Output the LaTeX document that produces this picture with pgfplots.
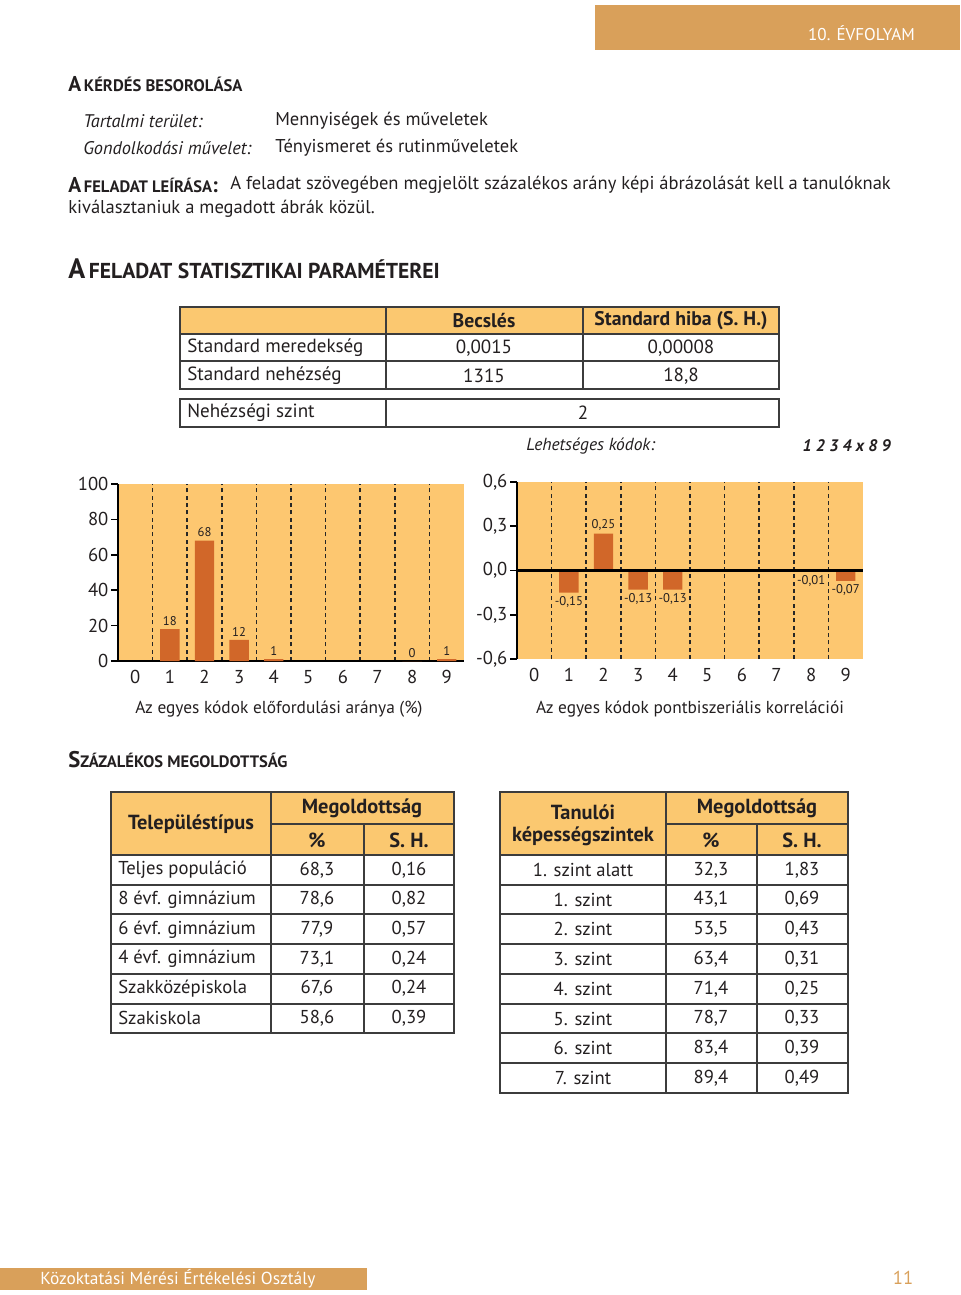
\documentclass[border=0pt]{standalone}
\usepackage{pgfplots}
\pgfplotsset{compat=1.18}
\usepackage{fontspec}
\setmainfont{PT Sans}
\definecolor{hdr}{RGB}{217,160,90}
\definecolor{chartbg}{RGB}{253,199,112}
\definecolor{barc}{RGB}{209,103,41}
\definecolor{thead}{RGB}{251,200,112}
\definecolor{txt}{RGB}{35,31,32}
\definecolor{rule}{RGB}{60,60,60}
\newcommand\fs[1]{\fontsize{#1}{#1}\selectfont}
\pgfplotsset{
  /pgf/number format/assume math mode=true,
  pagechart/.style={
    width=259.5pt, height=132.75pt, scale only axis,
    xmin=-0.5, xmax=9.5,
    axis background/.style={fill=chartbg},
    axis y line*=left, axis x line*=bottom,
    axis line style={line width=2.2pt, black, -},
    xtick={0,...,9},
    minor xtick={0.5,1.5,...,8.5}, xminorgrids,
    minor grid style={black!85, line width=1.1pt, dash pattern=on 3pt off 2.5pt},
    x tick style={draw=none}, minor tick length=0pt,
    y tick style={line width=1.2pt, black}, tick align=outside, major tick length=5pt,
    ticklabel style={font=\fs{14}, text=txt, inner sep=2pt},
    ybar, bar width=14.5pt,
    nodes near coords,
    nodes near coords style={font=\fs{9.5}, text=txt, inner sep=2.5pt},
  }
}
\begin{document}
\begin{tikzpicture}[x=0.75pt, y=-0.75pt, every node/.style={inner sep=0pt, text=txt}]
\path[use as bounding box] (0,0) rectangle (960,1295);

% header
\fill[hdr] (595,5) rectangle (960,50);
\node[anchor=east, text=white, font=\fs{12.8}] at (915,33) {10. ÉVFOLYAM};

\node[anchor=west, font=\bfseries] at (68,84) {\fs{16}A\fs{12.5}\,KÉRDÉS BESOROLÁSA};
\node[anchor=west, font=\fs{13.7}\itshape] at (83,121) {Tartalmi terület:};
\node[anchor=west, font=\fs{13.9}] at (275,121) {Mennyiségek és műveletek};
\node[anchor=west, font=\fs{13.7}\itshape] at (83,148) {Gondolkodási művelet:};
\node[anchor=west, font=\fs{13.9}] at (275,148) {Tényismeret és rutinműveletek};
\node[anchor=west, font=\bfseries] at (68,185) {\fs{16}A\fs{12.4}\,FELADAT LEÍRÁSA\fs{16}:};
\node[anchor=west, font=\fs{13.9}] at (230,185) {A feladat szövegében megjelölt százalékos arány képi ábrázolását kell a tanulóknak};
\node[anchor=west, font=\fs{13.9}] at (68,209) {kiválasztaniuk a megadott ábrák közül.};
\node[anchor=west, font=\bfseries] at (68,269) {\fs{21}A\fs{16.2}\,FELADAT STATISZTIKAI PARAMÉTEREI};

% parameter table
\fill[thead] (180,307) rectangle (779,334);
\draw[rule, line width=1.3pt] (180,307) rectangle (779,389);
\draw[rule, line width=1.3pt] (180,334) -- (779,334) (180,361) -- (779,361)
  (386,307) -- (386,389) (583,307) -- (583,389);
\node[font=\fs{14.8}\bfseries] at (484,321) {Becslés};
\node[font=\fs{14.8}\bfseries] at (681,321) {Standard hiba (S. H.)};
\node[anchor=west, font=\fs{14.3}] at (187,348) {Standard meredekség};
\node[font=\fs{14.3}] at (484,348) {0,0015};
\node[font=\fs{14.3}] at (681,348) {0,00008};
\node[anchor=west, font=\fs{14.3}] at (187,376) {Standard nehézség};
\node[font=\fs{14.3}] at (484,376) {1315};
\node[font=\fs{14.3}] at (681,376) {18,8};
\draw[rule, line width=1.3pt] (180,399) rectangle (779,427) (386,399) -- (386,427);
\node[anchor=west, font=\fs{14.3}] at (187,413) {Nehézségi szint};
\node[font=\fs{14.3}] at (583,413) {2};
\node[anchor=west, font=\fs{13.1}\itshape] at (526,446) {Lehetséges kódok:};
\node[anchor=east, font=\fs{12.5}\bfseries\itshape] at (891,446) {1 2 3 4 x 8 9};

% chart 1
\begin{axis}[pagechart, at={(88.5pt,-495.75pt)}, anchor=south west,
  ymin=0, ymax=100, ytick={0,20,...,100}]
\addplot[fill=barc, draw=none] coordinates {(1,18) (2,68) (3,12) (4,1) (8,0) (9,1)};
\end{axis}
\node[font=\fs{13}] at (279,709) {Az egyes kódok előfordulási aránya (\%)};

% chart 2
\begin{axis}[pagechart, at={(387.75pt,-494.25pt)}, anchor=south west,
  ymin=-0.6, ymax=0.6, ytick={-0.6,-0.3,0,0.3,0.6},
  x axis line style={draw=none},
  yticklabel style={/pgf/number format/.cd, fixed, fixed zerofill, precision=1, use comma},
  nodes near coords style={/pgf/number format/.cd, fixed, fixed zerofill, precision=2, use comma}]
\addplot[fill=barc, draw=none] coordinates {(1,-0.15) (2,0.25) (3,-0.13) (4,-0.13) (8,-0.01) (9,-0.07)};
\draw[line width=2.2pt, black] (axis cs:-0.5,0) -- (axis cs:9.5,0);
\end{axis}
\node[font=\fs{13}] at (690,709) {Az egyes kódok pontbiszeriális korrelációi};

% percentages
\node[anchor=west, font=\bfseries] at (68,760) {\fs{17}S\fs{12.4}ZÁZALÉKOS MEGOLDOTTSÁG};

% left table
\fill[thead] (111,792) rectangle (454,855);
\draw[rule, line width=1.3pt] (111,792) rectangle (454,1033);
\draw[rule, line width=1.3pt] (271,792) -- (271,1033) (364,824) -- (364,1033) (271,824) -- (454,824)
  (111,855) -- (454,855) (111,885) -- (454,885) (111,914) -- (454,914) (111,944) -- (454,944)
  (111,974) -- (454,974) (111,1004) -- (454,1004);
\node[font=\fs{15.3}\bfseries] at (191,824) {Településtípus};
\node[font=\fs{15.3}\bfseries] at (362,808) {Megoldottság};
\node[font=\fs{15.3}\bfseries] at (317,840) {\%};
\node[font=\fs{15.3}\bfseries] at (409,840) {S. H.};
\foreach \n/\p/\s [count=\i] in {Teljes populáció/68{,}3/0{,}16, 8 évf. gimnázium/78{,}6/0{,}82,
  6 évf. gimnázium/77{,}9/0{,}57, 4 évf. gimnázium/73{,}1/0{,}24, Szakközépiskola/67{,}6/0{,}24,
  Szakiskola/58{,}6/0{,}39}{
  \pgfmathsetmacro\yy{855+29.7*\i-14.85}
  \node[anchor=west, font=\fs{14}] at (118,\yy) {\n};
  \node[font=\fs{14}] at (317,\yy) {\p};
  \node[font=\fs{14}] at (409,\yy) {\s};
}

% right table
\fill[thead] (500,792) rectangle (848,855);
\draw[rule, line width=1.3pt] (500,792) rectangle (848,1093);
\draw[rule, line width=1.3pt] (666,792) -- (666,1093) (757,824) -- (757,1093) (666,824) -- (848,824)
  (500,855) -- (848,855) (500,885) -- (848,885) (500,914) -- (848,914) (500,944) -- (848,944)
  (500,974) -- (848,974) (500,1004) -- (848,1004) (500,1033) -- (848,1033) (500,1063) -- (848,1063);
\node[font=\fs{15.3}\bfseries] at (583,812) {Tanulói};
\node[font=\fs{15.3}\bfseries] at (583,836) {képességszintek};
\node[font=\fs{15.3}\bfseries] at (757,808) {Megoldottság};
\node[font=\fs{15.3}\bfseries] at (711,840) {\%};
\node[font=\fs{15.3}\bfseries] at (802,840) {S. H.};
\foreach \n/\p/\s [count=\i] in {1. szint alatt/32{,}3/1{,}83, 1. szint/43{,}1/0{,}69,
  2. szint/53{,}5/0{,}43, 3. szint/63{,}4/0{,}31, 4. szint/71{,}4/0{,}25, 5. szint/78{,}7/0{,}33,
  6. szint/83{,}4/0{,}39, 7. szint/89{,}4/0{,}49}{
  \pgfmathsetmacro\yy{855+29.75*\i-14.875}
  \node[font=\fs{14}] at (583,\yy) {\n};
  \node[font=\fs{14}] at (711,\yy) {\p};
  \node[font=\fs{14}] at (802,\yy) {\s};
}

% footer
\fill[hdr] (0,1268) rectangle (367,1290);
\node[anchor=west, text=white, font=\fs{13}] at (40,1279) {Közoktatási Mérési Értékelési Osztály};
\node[text=hdr, font=\fs{14}] at (903,1278) {11};
\end{tikzpicture}
\end{document}
